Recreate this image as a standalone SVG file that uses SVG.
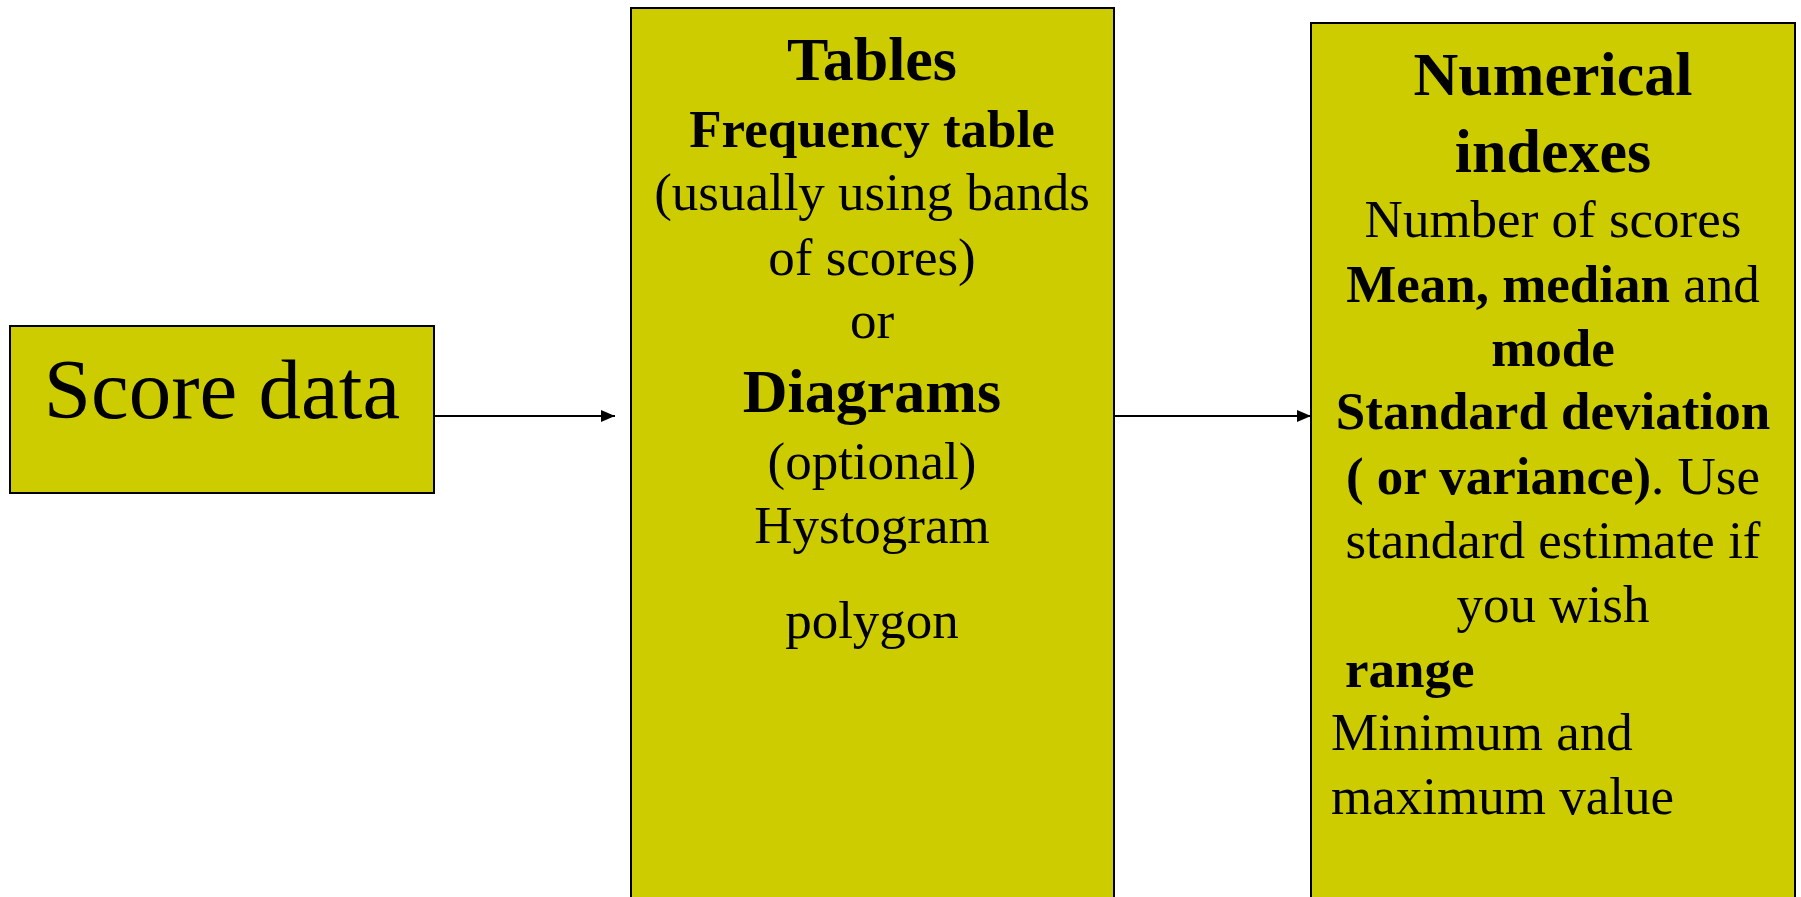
<svg xmlns="http://www.w3.org/2000/svg" width="1801" height="897" viewBox="0 0 1801 897">
<style>
.box{fill:#CCCC00;stroke:#000;stroke-width:2}
text{font-family:"Liberation Serif","Times New Roman",serif;fill:#000}
.c{text-anchor:middle}
.r{font-size:53px}
.h{font-size:62px;font-weight:bold}
.b{font-weight:bold}
.conn{stroke:#000;stroke-width:2;fill:none}
</style>
<defs>
<marker id="arr" markerWidth="14" markerHeight="12" refX="14" refY="6" orient="auto" markerUnits="userSpaceOnUse">
<path d="M0,0 L14,6 L0,12 Z" fill="#000"/>
</marker>
</defs>
<rect width="1801" height="897" fill="#fff"/>
<g id="connectors">
<line class="conn" x1="434" y1="416" x2="615" y2="416" marker-end="url(#arr)"/>
<line class="conn" x1="1114" y1="416" x2="1311" y2="416" marker-end="url(#arr)"/>
</g>
<g id="score-data">
<rect class="box" x="10" y="326" width="424" height="167"/>
<text class="c" x="222" y="418" font-size="85">Score data</text>
</g>
<g id="tables">
<rect class="box" x="631" y="8" width="483" height="900"/>
<text class="c h" x="872" y="80">Tables</text>
<text class="c r b" x="872" y="147">Frequency table</text>
<text class="c r" x="872" y="210">(usually using bands</text>
<text class="c r" x="872" y="275">of scores)</text>
<text class="c r" x="872" y="338">or</text>
<text class="c h" x="872" y="412">Diagrams</text>
<text class="c r" x="872" y="479">(optional)</text>
<text class="c r" x="872" y="543">Hystogram</text>
<text class="c r" x="872" y="638">polygon</text>
</g>
<g id="numerical">
<rect class="box" x="1311" y="23" width="484" height="890"/>
<text class="c h" x="1553" y="95">Numerical</text>
<text class="c h" x="1553" y="172">indexes</text>
<text class="c r" x="1553" y="237">Number of scores</text>
<text class="c r" x="1553" y="302"><tspan class="b">Mean, median</tspan> and</text>
<text class="c r b" x="1553" y="366">mode</text>
<text class="c r b" x="1553" y="429">Standard deviation</text>
<text class="c r" x="1553" y="494"><tspan class="b">( or variance)</tspan>. Use</text>
<text class="c r" x="1553" y="558">standard estimate if</text>
<text class="c r" x="1553" y="622">you wish</text>
<text class="r b" x="1345" y="687">range</text>
<text class="r" x="1331" y="750">Minimum and</text>
<text class="r" x="1331" y="814">maximum value</text>
</g>
</svg>
